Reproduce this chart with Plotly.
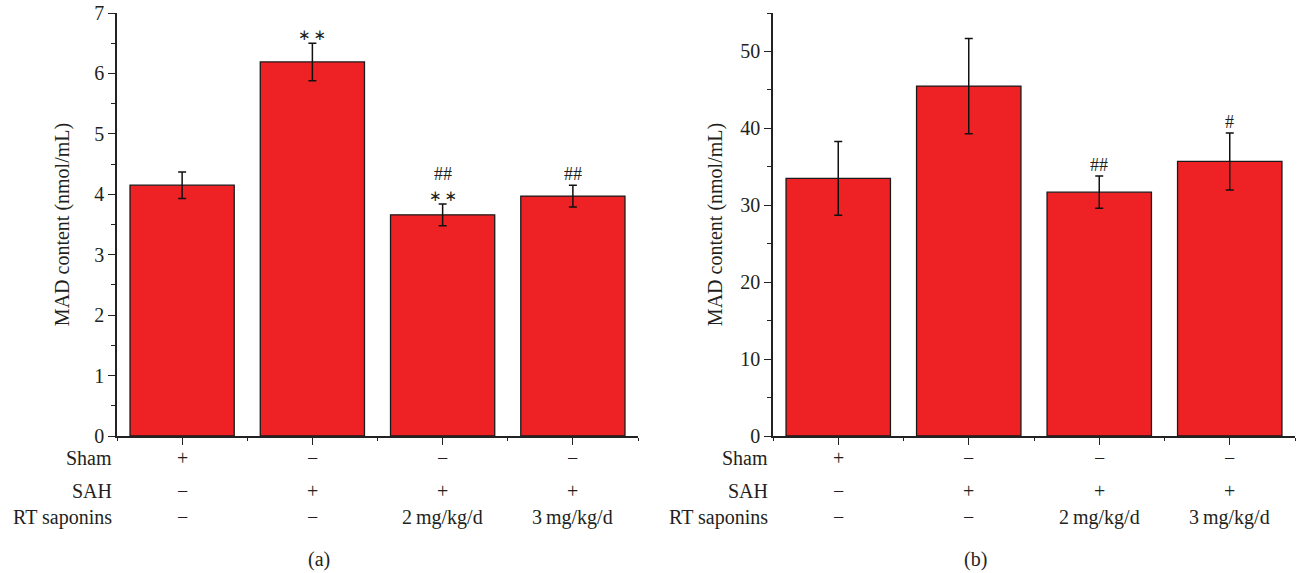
import plotly.graph_objects as go

# ---- data ----
groups = [0, 1, 2, 3]
mad_a = [4.15, 6.19, 3.66, 3.97]
err_a = [0.22, 0.31, 0.18, 0.18]
mad_b = [33.5, 45.5, 31.7, 35.7]
err_b = [4.8, 6.2, 2.1, 3.7]
sham_row = ["+", "−", "−", "−"]
sah_row = ["−", "+", "+", "+"]
rt_row = ["−", "−", "2\u2009mg/kg/d", "3\u2009mg/kg/d"]
row_names = ["Sham", "SAH", "RT saponins"]
sig_a = [("", ""), ("**", ""), ("**", "##"), ("", "##")]
sig_b = [("", ""), ("", ""), ("", "##"), ("", "#")]
yticks_a = [0, 1, 2, 3, 4, 5, 6, 7]
yticks_b = [0, 10, 20, 30, 40, 50]

FONT = "Liberation Serif"
TXT = "#231f20"
BAR = "#ee2224"

fig = go.Figure()
for (vals, errs, xa, ya) in [(mad_a, err_a, "x", "y"), (mad_b, err_b, "x2", "y2")]:
    fig.add_trace(go.Bar(
        x=groups, y=vals, width=0.8, xaxis=xa, yaxis=ya,
        marker=dict(color=BAR, line=dict(color="#1a1a1a", width=1.3)),
        error_y=dict(type="data", array=errs, visible=True, color="#111111",
                     thickness=1.5, width=4),
        showlegend=False,
    ))

ydom = [(573 - 436) / 573, (573 - 13) / 573]
axis_common = dict(showline=True, linecolor="#222222", linewidth=1.5,
                   showgrid=False, zeroline=False, ticks="outside",
                   tickcolor="#222222", tickwidth=1.3, automargin=False,
                   tickfont=dict(family=FONT, size=20, color=TXT))

fig.update_layout(
    width=1298, height=573, autosize=False,
    margin=dict(l=0, r=0, t=0, b=0),
    paper_bgcolor="white", plot_bgcolor="white",
    bargap=0.2,
    xaxis=dict(domain=[117 / 1298, 638 / 1298], range=[-0.5, 3.5],
               tickmode="array", tickvals=groups, showticklabels=False,
               ticklen=7,
               minor=dict(tickmode="array", tickvals=[-0.5, 0.5, 1.5, 2.5, 3.5],
                          ticks="outside", ticklen=3, tickcolor="#222222"),
               **axis_common),
    xaxis2=dict(domain=[773 / 1298, 1295 / 1298], range=[-0.5, 3.5],
                tickmode="array", tickvals=groups, showticklabels=False,
                ticklen=7,
                minor=dict(tickmode="array", tickvals=[-0.5, 0.5, 1.5, 2.5, 3.5],
                           ticks="outside", ticklen=3, tickcolor="#222222"),
                anchor="y2", **axis_common),
    yaxis=dict(domain=ydom, range=[0, 7], tickmode="array", tickvals=yticks_a,
               ticklen=7, anchor="x",
               minor=dict(dtick=0.5, tick0=0, ticks="outside", ticklen=4,
                          tickcolor="#222222"),
               title=dict(text="MAD content (nmol/mL)", standoff=19,
                          font=dict(family=FONT, size=20, color=TXT)),
               **axis_common),
    yaxis2=dict(domain=ydom, range=[0, 55], tickmode="array", tickvals=yticks_b,
                ticklen=7, anchor="x2",
                minor=dict(dtick=5, tick0=0, ticks="outside", ticklen=4,
                           tickcolor="#222222"),
                title=dict(text="MAD content (nmol/mL)", standoff=12,
                           font=dict(family=FONT, size=20, color=TXT)),
                **axis_common),
)

row_y = [(573 - 458) / 573, (573 - 491) / 573, (573 - 517) / 573]
rows = [sham_row, sah_row, rt_row]
annots = []
for xr in ["x", "x2"]:
    for ri, (name, row) in enumerate(zip(row_names, rows)):
        annots.append(dict(x=-0.006, y=row_y[ri], xref=xr + " domain", yref="paper",
                           text=name, showarrow=False, xanchor="right",
                           yanchor="middle",
                           font=dict(family=FONT, size=20, color=TXT)))
        for g, t in zip(groups, row):
            annots.append(dict(x=g, y=row_y[ri], xref=xr, yref="paper",
                               text=t, showarrow=False, xanchor="center",
                               yanchor="middle",
                               font=dict(family=FONT, size=20, color=TXT)))
annots.append(dict(x=1.05, y=(573 - 559) / 573, xref="x", yref="paper",
                   text="(a)", showarrow=False, yanchor="middle",
                   font=dict(family=FONT, size=20, color=TXT)))
annots.append(dict(x=1.05, y=(573 - 559) / 573, xref="x2", yref="paper",
                   text="(b)", showarrow=False, yanchor="middle",
                   font=dict(family=FONT, size=20, color=TXT)))

for (vals, errs, sig, xr, yr) in [(mad_a, err_a, sig_a, "x", "y"),
                                  (mad_b, err_b, sig_b, "x2", "y2")]:
    for g, v, e, (star, hsh) in zip(groups, vals, errs, sig):
        top = v + e
        if star:
            annots.append(dict(x=g, y=top, xref=xr, yref=yr, text="∗\u2009∗",
                               showarrow=False, yanchor="middle", yshift=8,
                               font=dict(family="DejaVu Sans", size=15, color=TXT)))
        if hsh:
            shift = 30 if star else 11
            annots.append(dict(x=g, y=top, xref=xr, yref=yr, text=hsh,
                               showarrow=False, yanchor="middle", yshift=shift,
                               font=dict(family=FONT, size=18, color=TXT)))
fig.update_layout(annotations=annots)

fig.write_html("out.html")
